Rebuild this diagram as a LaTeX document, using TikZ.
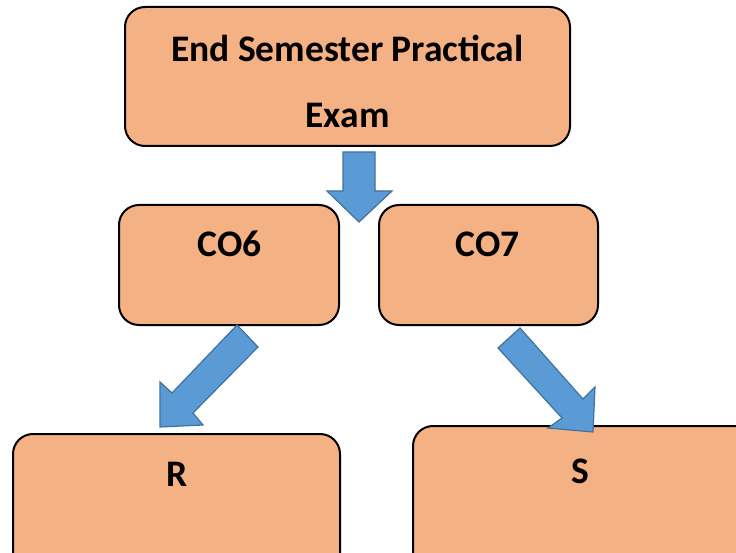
\documentclass[tikz,border=0pt]{standalone}
\usepackage{fontspec}
\setmainfont{Carlito}
\begin{document}
\begin{tikzpicture}[x=1pt,y=-1pt,
  box/.style={draw=black, line width=2pt, fill=boxfill, rounded corners=20pt, inner sep=0pt},
  lbl/.style={anchor=base, inner sep=0pt, font=\fontsize{37.5}{42}\selectfont\bfseries},
  blockarrow/.style={fill=arrowfill, draw=arrowline, line width=1.2pt, line join=miter}]
\definecolor{boxfill}{HTML}{F4B183}
\definecolor{arrowfill}{HTML}{5B9BD5}
\definecolor{arrowline}{HTML}{41719C}
\useasboundingbox (0,0) rectangle (736,553);
\clip (0,0) rectangle (736,553);

% boxes
\node[box, minimum width=445pt, minimum height=139pt] (exam) at (347.5,76.5) {};
\node[box, minimum width=220pt, minimum height=120pt] (co6) at (229,265) {};
\node[box, minimum width=219pt, minimum height=120pt] (co7) at (488.5,265) {};
\node[box, minimum width=327pt, minimum height=166pt] (r) at (176.5,517) {};
\node[box, minimum width=387pt, minimum height=174pt] (s) at (606.5,513) {};

% labels
\node[lbl] (t1) at (347.5,62) {End Semester Practical};
\node[lbl] (t2) at (347.5,128) {Exam};
\node[lbl] (tco6) at (229.5,257) {CO6};
\node[lbl] (tco7) at (487.5,257) {CO7};
\node[lbl] (tr) at (177,486) {R};
\node[lbl] (ts) at (580,483) {S};

% block arrows
\draw[blockarrow] (343,152) -- (375,152) -- (375,191) -- (392,191) -- (359,222)
  -- (327,191) -- (343,191) -- cycle;
\draw[blockarrow] (237,325) -- (258,347) -- (193,413) -- (203,425) -- (160,427)
  -- (160,382) -- (172,393) -- cycle;
\draw[blockarrow] (498,348) -- (520,328) -- (583,399) -- (595,387) -- (593,432)
  -- (548,428) -- (562,418) -- cycle;
\end{tikzpicture}
\end{document}
